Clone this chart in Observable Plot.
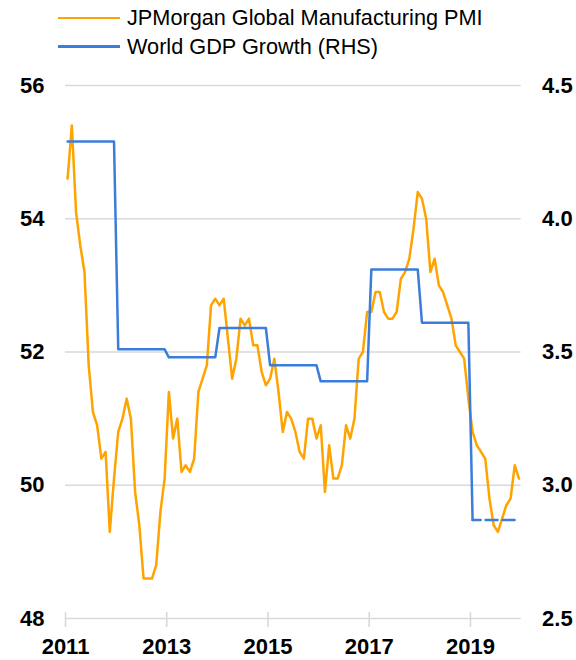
<!DOCTYPE html>
<html><head><meta charset="utf-8">
<script src="https://cdn.jsdelivr.net/npm/d3@7"></script>
<script src="https://cdn.jsdelivr.net/npm/@observablehq/plot@0.6"></script>
<style>
body{margin:0;background:#fff;font-family:"Liberation Sans",Arial,sans-serif;}
#legend{height:70px;box-sizing:border-box;padding-top:4px;}
.row{height:28.4px;display:flex;align-items:center;margin-left:58px;font-size:21.7px;color:#000;}
.sw{width:62px;height:2.5px;margin-right:7px;}
</style></head><body>
<div id="chart"><div id="legend"></div></div>
<script>
// ---- data ----
const startYear = 2011;
const pmi2011 = [54.6, 55.4, 54.1, 53.6, 53.2, 51.8, 51.1, 50.9, 50.4, 50.5, 49.3, 50.1];
const pmi2012 = [50.8, 51.0, 51.3, 51.0, 49.9, 49.4, 48.6, 48.6, 48.6, 48.8, 49.6, 50.1];
const pmi2013 = [51.4, 50.7, 51.0, 50.2, 50.3, 50.2, 50.4, 51.4, 51.6, 51.8, 52.7, 52.8];
const pmi2014 = [52.7, 52.8, 52.2, 51.6, 51.9, 52.5, 52.4, 52.5, 52.1, 52.1, 51.7, 51.5];
const pmi2015 = [51.6, 51.9, 51.4, 50.8, 51.1, 51.0, 50.8, 50.5, 50.4, 51.0, 51.0, 50.7];
const pmi2016 = [50.9, 49.9, 50.6, 50.1, 50.1, 50.3, 50.9, 50.7, 51.0, 51.9, 52.0, 52.6];
const pmi2017 = [52.6, 52.9, 52.9, 52.6, 52.5, 52.5, 52.6, 53.1, 53.2, 53.4, 53.85, 54.4];
const pmi2018 = [54.3, 54.0, 53.2, 53.4, 53.0, 52.9, 52.7, 52.5, 52.1, 52.0, 51.9, 51.3];
const pmi2019 = [50.8, 50.6, 50.5, 50.4, 49.8, 49.4, 49.3, 49.5, 49.7, 49.8, 50.3, 50.1];
const gdpYears = [2011, 2012, 2013, 2014, 2015, 2016, 2017, 2018, 2019];
const gdpValues = [4.29, 3.51, 3.48, 3.59, 3.45, 3.39, 3.81, 3.61, 2.87];
const forecastYear = 2019;
const leftTicks = [48, 50, 52, 54, 56];
const rightTicks = [2.5, 3.0, 3.5, 4.0, 4.5];
const xTicks = [2011, 2013, 2015, 2017, 2019];
const seriesNames = ["JPMorgan Global Manufacturing PMI", "World GDP Growth (RHS)"];
const seriesColors = ["#FFA300", "#3A7DDB"];

// ---- build tables ----
const pmiAll = [pmi2011, pmi2012, pmi2013, pmi2014, pmi2015, pmi2016, pmi2017, pmi2018, pmi2019].flat();
const pmiData = pmiAll.map((v, i) => ({t: startYear + (i + 0.5) / 12, v}));
const toLeft = g => 48 + (g - 2.5) * 4;
const gdpPts = [];
gdpYears.forEach((y, k) => {
  gdpPts.push({t: y + 0.5 / 12, v: toLeft(gdpValues[k]), y});
  gdpPts.push({t: y + 11.5 / 12, v: toLeft(gdpValues[k]), y});
});
const gdpSolid = gdpPts.filter(d => d.y < forecastYear || d.t < forecastYear + 0.1);
const gdpDash = gdpPts.filter(d => d.y === forecastYear);

// ---- legend ----
const lg = document.getElementById("legend");
seriesNames.forEach((n, i) => {
  const r = document.createElement("div"); r.className = "row";
  const s = document.createElement("span"); s.className = "sw"; s.style.background = seriesColors[i];
  const t = document.createElement("span"); t.textContent = n;
  r.append(s, t); lg.append(r);
});

// ---- chart ----
const chart = Plot.plot({
  width: 576, height: 590,
  marginTop: 15, marginBottom: 42, marginLeft: 65, marginRight: 55.4,
  style: {fontFamily: '"Liberation Sans", Arial, sans-serif', fontSize: "22px", fontWeight: "bold", color: "#000", background: "#fff"},
  x: {domain: [2011, 2020], axis: null},
  y: {domain: [48, 56], axis: null},
  marks: [
    Plot.gridY(leftTicks, {stroke: "#d9d9d9", strokeOpacity: 1, strokeWidth: 1.6}),
    Plot.ruleX(xTicks, {x: d => d, y1: 48, y2: 48, insetTop: -6, insetBottom: -9, stroke: "#d9d9d9", strokeWidth: 1.6}),
    Plot.axisY(leftTicks, {anchor: "left", label: null, tickSize: 0, tickPadding: 21, fontWeight: "bold", tickFormat: d => String(d)}),
    Plot.axisY(rightTicks.map(toLeft), {anchor: "right", label: null, tickSize: 0, tickPadding: 21, fontWeight: "bold", tickFormat: d => ((d - 48) / 4 + 2.5).toFixed(1)}),
    Plot.axisX(xTicks, {anchor: "bottom", label: null, tickSize: 0, tickPadding: 20, fontWeight: "bold", tickFormat: d => String(d)}),
    Plot.line(pmiData, {x: "t", y: "v", stroke: seriesColors[0], strokeWidth: 2.5}),
    Plot.line(gdpSolid, {x: "t", y: "v", stroke: seriesColors[1], strokeWidth: 2.5}),
    Plot.line(gdpDash, {x: "t", y: "v", stroke: seriesColors[1], strokeWidth: 2.5, strokeDasharray: "12,5", strokeDashoffset: 4})
  ]
});
document.getElementById("chart").append(chart);
</script>
</body></html>
